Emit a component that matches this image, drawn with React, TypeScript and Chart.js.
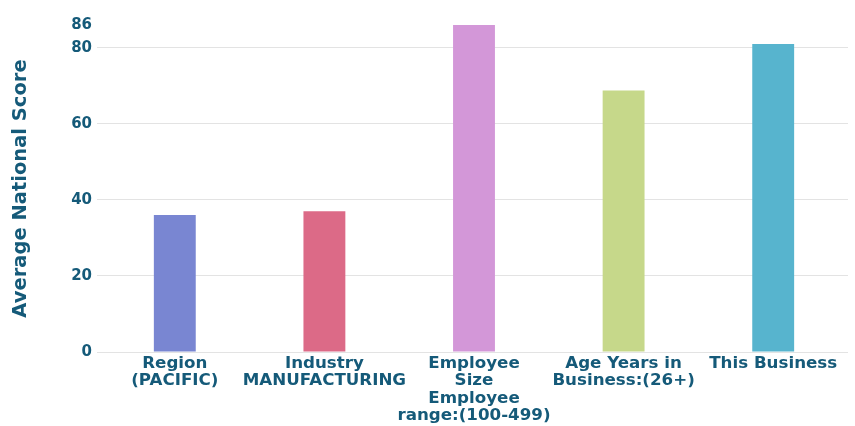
import React, { useEffect, useRef } from 'react';
import { Chart, registerables } from 'chart.js';

Chart.register(...registerables);

const categories: string[][] = [
  ['Region', '(PACIFIC)'],
  ['Industry', 'MANUFACTURING'],
  ['Employee', 'Size', 'Employee', 'range:(100-499)'],
  ['Age Years in', 'Business:(26+)'],
  ['This Business'],
];
const scores = [36, 37, 86, 68.8, 81];
const barColors = ['#7986D2', '#DC6A87', '#D397D8', '#C6D88A', '#57B4CE'];
const yTickValues = [0, 20, 40, 60, 80, 86];
const yTitle = 'Average National Score';

const TEXT = '#155A79';
const GRID = '#E3E3E3';
const FONT = '"DejaVu Sans", sans-serif';

export default function App() {
  const ref = useRef<HTMLCanvasElement | null>(null);

  useEffect(() => {
    if (!ref.current) return;
    const chart = new Chart(ref.current, {
      type: 'bar',
      data: {
        labels: categories,
        datasets: [
          {
            data: scores,
            backgroundColor: barColors,
            borderWidth: 0,
            barPercentage: 0.28,
            categoryPercentage: 1,
          },
        ],
      },
      options: {
        responsive: false,
        animation: false,
        layout: { padding: { top: 25, right: 7, left: 0, bottom: 0 } },
        plugins: { legend: { display: false }, tooltip: { enabled: false } },
        scales: {
          x: {
            grid: { display: false, drawTicks: false },
            border: { display: false },
            ticks: {
              color: TEXT,
              font: { family: FONT, size: 16.7, weight: 'bold', lineHeight: '17.6px' },
              maxRotation: 0,
              minRotation: 0,
              autoSkip: false,
              padding: 2.5,
            },
            afterFit: (s: any) => {
              s.height = 78;
            },
          },
          y: {
            min: 0,
            max: 86,
            border: { display: false },
            grid: {
              color: (ctx: any) => (ctx.tick && ctx.tick.value === 86 ? 'rgba(0,0,0,0)' : GRID),
              drawTicks: true,
              tickLength: 3,
            },
            ticks: {
              color: TEXT,
              font: { family: FONT, size: 15, weight: 'bold' },
              padding: 5,
            },
            afterBuildTicks: (s: any) => {
              s.ticks = yTickValues.map((v) => ({ value: v }));
            },
            afterFit: (s: any) => {
              s.width = 100;
            },
            title: {
              display: true,
              text: yTitle,
              color: TEXT,
              font: { family: FONT, size: 19.5, weight: 'bold' },
              padding: { top: 9, bottom: 0 },
            },
          },
        },
      },
    });
    return () => chart.destroy();
  }, []);

  return (
    <div style={{ position: 'absolute', left: 0, top: 0, width: 855, height: 430, overflow: 'hidden' }}>
      <canvas ref={ref} width={855} height={430} />
    </div>
  );
}
